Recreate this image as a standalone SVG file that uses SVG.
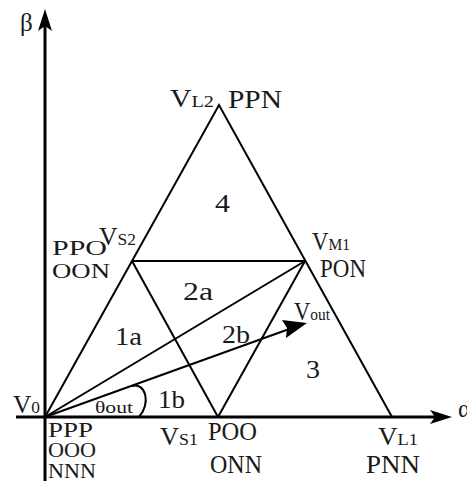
<svg xmlns="http://www.w3.org/2000/svg" width="467" height="481" viewBox="0 0 467 481">
<defs>
<style>
text{font-family:"Liberation Serif","Times New Roman",serif;fill:#1a1a1a;}
.l{font-size:25px;}
.m{font-size:21px;}
.s{font-size:17px;}
.n{font-size:26px;}
.ln{stroke:#000;stroke-width:2;fill:none;}
.ax{stroke:#000;stroke-width:3;fill:none;}
</style>
</defs>
<rect width="467" height="481" fill="#fff"/>
<g id="connectors">
<line class="ax" x1="45" y1="481" x2="45" y2="26"/>
<path d="M45,9 L52,31 L45,26 L38,31 z" fill="#000"/>
<line class="ax" x1="16" y1="417" x2="436" y2="417"/>
<path d="M452,417 L430,410 L435,417 L430,424 z" fill="#000"/>
<polyline class="ln" points="45,417 219,105 392,417"/>
<line class="ln" x1="132" y1="261" x2="305" y2="261"/>
<line class="ln" x1="132" y1="261" x2="218" y2="417"/>
<line class="ln" x1="218" y1="417" x2="305" y2="261"/>
<line class="ln" x1="45" y1="417" x2="305" y2="261"/>
<line class="ln" x1="45" y1="417" x2="292" y2="328"/>
<path d="M307,323 L282,320 L287,328 L286,338 z" fill="#000"/>
<path class="ln" d="M132,386 C146,382 151,404 139,417"/>
</g>
<g id="labels">
<text class="l" x="20" y="31">β</text>
<text class="l" x="458" y="417">α</text>
<text class="l" x="170" y="107" textLength="44" lengthAdjust="spacingAndGlyphs">V<tspan class="s">L2</tspan></text>
<text class="l" x="228" y="108" textLength="54" lengthAdjust="spacingAndGlyphs">PPN</text>
<text class="n" x="215" y="212" textLength="15" lengthAdjust="spacingAndGlyphs">4</text>
<text class="l" x="99" y="245" textLength="37" lengthAdjust="spacingAndGlyphs">V<tspan class="s">S2</tspan></text>
<text class="m" x="52" y="255" textLength="55" lengthAdjust="spacingAndGlyphs">PPO</text>
<text class="m" x="52" y="278" textLength="58" lengthAdjust="spacingAndGlyphs">OON</text>
<text class="l" x="312" y="250" textLength="38" lengthAdjust="spacingAndGlyphs">V<tspan class="s">M1</tspan></text>
<text class="l" x="320" y="277" textLength="46" lengthAdjust="spacingAndGlyphs">PON</text>
<text class="n" x="183" y="300" textLength="30" lengthAdjust="spacingAndGlyphs">2a</text>
<text class="n" x="115" y="345" textLength="27" lengthAdjust="spacingAndGlyphs">1a</text>
<text class="n" x="222" y="343" textLength="28" lengthAdjust="spacingAndGlyphs">2b</text>
<text class="n" x="306" y="378" textLength="14" lengthAdjust="spacingAndGlyphs">3</text>
<text class="n" x="158" y="408" textLength="27" lengthAdjust="spacingAndGlyphs">1b</text>
<text class="l" x="294" y="320" textLength="36" lengthAdjust="spacingAndGlyphs">V<tspan class="s">out</tspan></text>
<text class="l" x="13" y="413" textLength="27" lengthAdjust="spacingAndGlyphs">V<tspan class="s">0</tspan></text>
<text class="s" x="95" y="413" textLength="38" lengthAdjust="spacingAndGlyphs">θout</text>
<text class="m" x="48" y="437" textLength="45" lengthAdjust="spacingAndGlyphs">PPP</text>
<text class="m" x="48" y="457" textLength="48" lengthAdjust="spacingAndGlyphs">OOO</text>
<text class="m" x="48" y="478" textLength="48" lengthAdjust="spacingAndGlyphs">NNN</text>
<text class="l" x="160" y="445" textLength="38" lengthAdjust="spacingAndGlyphs">V<tspan class="s">S1</tspan></text>
<text class="l" x="208" y="440" textLength="49" lengthAdjust="spacingAndGlyphs">POO</text>
<text class="l" x="210" y="473" textLength="52" lengthAdjust="spacingAndGlyphs">ONN</text>
<text class="l" x="378" y="445" textLength="40" lengthAdjust="spacingAndGlyphs">V<tspan class="s">L1</tspan></text>
<text class="l" x="366" y="473" textLength="54" lengthAdjust="spacingAndGlyphs">PNN</text>
</g>
</svg>
